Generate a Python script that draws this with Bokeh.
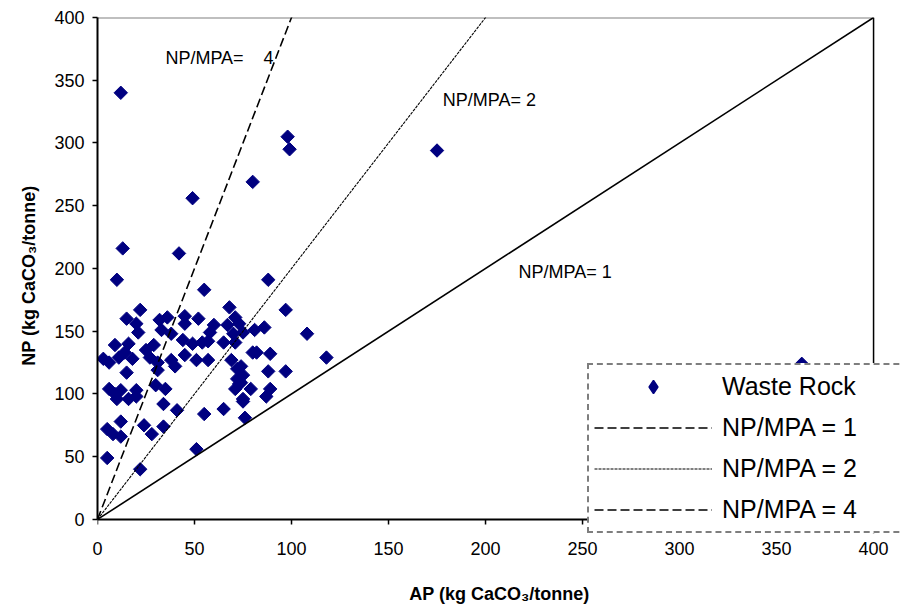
import math
from bokeh.plotting import figure
from bokeh.models import ColumnDataSource, Legend, LegendItem, Span, FixedTicker, Label
from bokeh.embed import file_html
from bokeh.resources import INLINE

# Waste rock samples: AP and NP (kg CaCO3/tonne)
ap = [12, 98, 99, 175, 80, 49, 13, 42, 10, 88, 55, 363, 118, 108, 97,
      68, 71, 22, 15, 20, 32, 36, 45, 52, 60, 73, 67, 86, 81, 21, 33, 38, 45, 70, 75, 58, 57,
      44, 49, 54, 65, 71, 9, 16, 14, 29, 25, 80, 82, 89, 6, 11, 18, 27, 31, 38, 40, 45, 51, 57, 69, 74, 3,
      15, 31, 72, 75, 88, 97, 72, 74, 6, 12, 20, 30, 35, 73, 79, 89, 71, 87, 75, 10, 16, 20, 9,
      34, 41, 55, 65, 75, 76, 12, 5, 8, 12, 24, 28, 34, 51, 5, 22]
np_ = [340, 305, 295, 294, 269, 256, 216, 212, 191, 191, 183, 124, 129, 148, 167,
       169, 161, 167, 160, 156, 159, 161, 162, 160, 155, 156, 155, 153, 151, 149, 151, 148, 156, 148, 149, 149, 142,
       143, 140, 141, 141, 141, 139, 140, 133, 139, 135, 133, 133, 132, 125, 129, 128, 129, 125, 127, 122, 131, 127, 127, 127, 122, 128,
       117, 119, 120, 115, 118, 118, 112, 109, 104, 103, 103, 107, 104, 108, 104, 104, 104, 98, 96, 96, 96, 98, 100,
       92, 87, 84, 88, 94, 81, 78, 72, 68, 66, 75, 68, 74, 56, 49, 40]

ratios = [1, 2, 4]
ratio_labels = ["NP/MPA = 1", "NP/MPA = 2", "NP/MPA = 4"]
chart_notes = ["NP/MPA= 1", "NP/MPA= 2", "NP/MPA=\u00a0\u00a0\u00a0\u00a04"]
note_x = [217, 178, 35]
note_y = [197, 334, 368]
x_ticks = [0, 50, 100, 150, 200, 250, 300, 350, 400]
y_ticks = [0, 50, 100, 150, 200, 250, 300, 350, 400]
line_x = [0, 400]

FONT = "Liberation Sans"
PX_PER_NP = 502 / 400.0  # vertical scale, used for the 5px x-tick marks

# frame extended a little right/below the 0-400 box so that the legend can overhang it
p = figure(width=901, height=612, x_range=(0, 414.4), y_range=(-11.2, 400),
           output_backend="svg", toolbar_location=None,
           min_border_left=97, min_border_right=0, min_border_top=17, min_border_bottom=79)
p.xgrid.visible = False
p.ygrid.visible = False
p.outline_line_color = None
p.background_fill_color = "white"
p.border_fill_color = "white"

for ax, ticks in ((p.xaxis[0], x_ticks), (p.yaxis[0], y_ticks)):
    ax.ticker = FixedTicker(ticks=ticks)
    ax.bounds = (ticks[0], ticks[-1])
    ax.axis_line_color = "black"
    ax.axis_line_width = 2
    ax.major_tick_line_color = "black"
    ax.major_tick_line_width = 1.5
    ax.major_tick_in = 0
    ax.major_tick_out = 5
    ax.minor_tick_line_color = None
    ax.major_label_text_font = FONT
    ax.major_label_text_font_size = "18px"
    ax.major_label_text_color = "black"
    ax.axis_label_text_font = FONT
    ax.axis_label_text_font_size = "18px"
    ax.axis_label_text_font_style = "bold"
    ax.axis_label_text_color = "black"

# x axis sits at the frame bottom (below NP=0); its line and ticks are drawn at NP=0 instead
p.xaxis.axis_line_color = None
p.xaxis.major_tick_line_color = None
p.xaxis.major_tick_out = 0
p.xaxis.major_label_standoff = 8
p.xaxis.axis_label_standoff = 26
p.xaxis.axis_label = "AP (kg CaCO₃/tonne)"
p.yaxis.axis_label = "NP (kg CaCO₃/tonne)"
p.yaxis.major_label_standoff = 8
p.yaxis.axis_label_standoff = 12

# x axis line and outward tick marks at NP = 0
p.add_layout(Span(location=y_ticks[0], dimension="width", line_color="black", line_width=2))
p.segment(x0=x_ticks, y0=[y_ticks[0]] * len(x_ticks), x1=x_ticks,
          y1=[y_ticks[0] - 5 / PX_PER_NP] * len(x_ticks), line_color="black", line_width=1.5)

# plot-area border: grey top, black right
p.line([x_ticks[0], x_ticks[-1]], [y_ticks[-1], y_ticks[-1]], line_color="#808080", line_width=2)
p.add_layout(Span(location=x_ticks[-1], dimension="height", line_color="black", line_width=1.5))

styles = [dict(line_dash="solid", line_width=1.6),
          dict(line_dash="3 1", line_width=1.1),
          dict(line_dash="9 4", line_width=1.6)]

src = ColumnDataSource(dict(ap=ap, np=np_))
sc = p.scatter("ap", "np", source=src, marker="square", angle=math.pi / 4, size=9.5,
               fill_color="#000080", line_color="#000080")

line_renderers = []
for r, st in zip(ratios, styles):
    line_renderers.append(p.line(line_x, [r * v for v in line_x], line_color="black", **st))

# legend symbols: a diamond for the samples, a dashed symbol for ratio 1
leg_pt = p.scatter([float("nan")], [float("nan")], marker="diamond", size=16,
                   fill_color="#000080", line_color="#000080", line_width=1.5)
leg1 = p.line([0, 0], [0, 0], line_color="black", line_dash="9 4", line_width=1.5)
legend_items = [LegendItem(label="Waste Rock", renderers=[leg_pt]),
                LegendItem(label=ratio_labels[0], renderers=[leg1]),
                LegendItem(label=ratio_labels[1], renderers=[line_renderers[1]]),
                LegendItem(label=ratio_labels[2], renderers=[line_renderers[2]])]

for t, x, y in zip(chart_notes, note_x, note_y):
    p.add_layout(Label(x=x, y=y, text=t, text_font=FONT, text_font_size="18px",
                       text_color="black", text_baseline="middle"))

legend = Legend(items=legend_items, location=(490, 0),
                label_text_font=FONT, label_text_font_size="25px",
                label_text_color="black", label_height=24, glyph_height=33,
                glyph_width=118, label_standoff=10, label_width=200,
                spacing=8, padding=5, margin=0,
                border_line_color="black", border_line_dash="10 5", border_line_width=2,
                background_fill_color="white", background_fill_alpha=1.0)
p.add_layout(legend, "center")

open("out.html", "w").write(file_html(p, INLINE))
